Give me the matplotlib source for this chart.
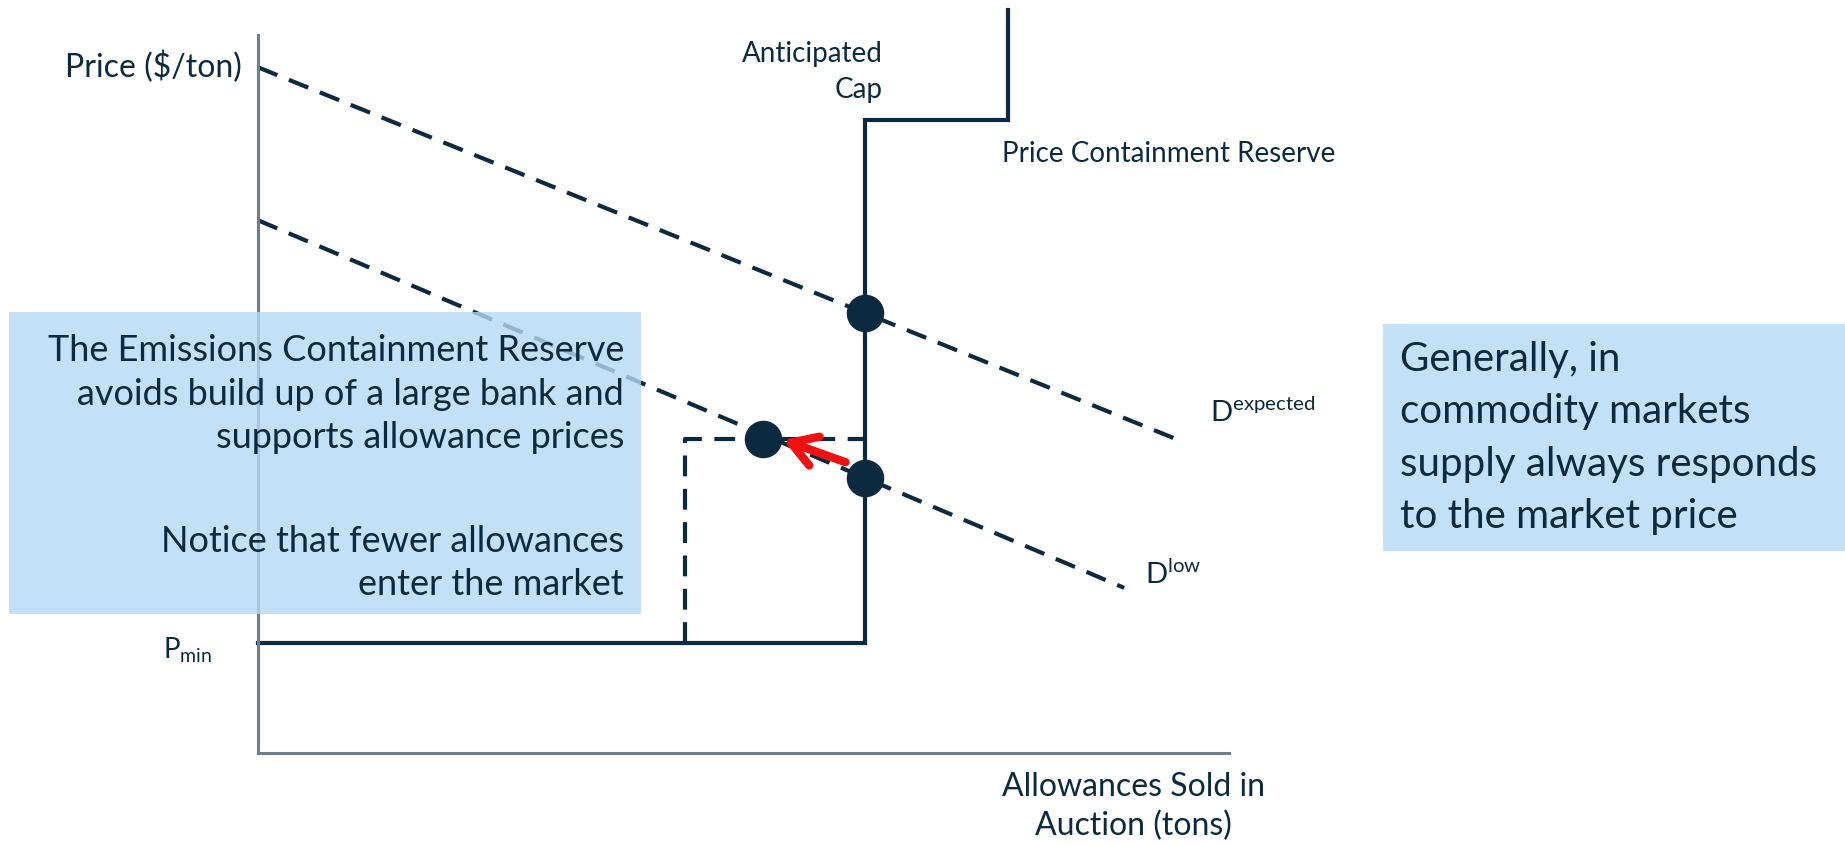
import matplotlib

matplotlib.use('Agg')
import matplotlib.pyplot as plt
from matplotlib.patches import Rectangle

# quantities (x) and prices (y) in arbitrary units, 0..100
pmin = 15.3
cap_q = 62.5
pcr_price = 88.2
pcr_q = 77.2
ecr_q = 44.0
ecr_price = 43.7

supply_q = [0, cap_q, cap_q, pcr_q, pcr_q]
supply_p = [pmin, pmin, pcr_price, pcr_price, 103.5]
ecr_line_q = [ecr_q, ecr_q, cap_q]
ecr_line_p = [pmin, ecr_price, ecr_price]
d_expected_q = [0, 94.6]
d_expected_p = [95.5, 43.7]
d_low_q = [0, 89.2]
d_low_p = [74.2, 23.0]
eq_q = [62.5, 62.5, 52.0]
eq_p = [61.3, 38.3, 43.7]
arrow_from = (60.5, 40.5)
arrow_to = (54.1, 43.6)

box_left_lines1 = 'The Emissions Containment Reserve\navoids build up of a large bank and\nsupports allowance prices'
box_left_lines2 = 'Notice that fewer allowances\nenter the market'
box_right_text = 'Generally, in\ncommodity markets\nsupply always responds\nto the market price'

navy = '#0b2a3f'
grey = '#6f7f8c'
box_col = '#b6d9f5'

plt.rcParams['font.family'] = ['Lato', 'DejaVu Sans']
plt.rcParams['mathtext.fontset'] = 'custom'
plt.rcParams['mathtext.rm'] = 'Lato'
plt.rcParams['mathtext.it'] = 'Lato'

W, H = 1845, 846
fig = plt.figure(figsize=(W / 100, H / 100), dpi=100)


def fx(x):
    return x / W


def fy(y):
    return 1 - y / H


ax = fig.add_axes([fx(258), fy(753), fx(1229) - fx(258), fy(35) - fy(753)])
ax.set_xlim(0, 100)
ax.set_ylim(0, 100)
ax.set_xticks([])
ax.set_yticks([])
for s in ['top', 'right']:
    ax.spines[s].set_visible(False)
for s in ['left', 'bottom']:
    ax.spines[s].set_color(grey)
    ax.spines[s].set_linewidth(2.2)

dash = (0, (5, 3))
ax.plot(d_expected_q, d_expected_p, color=navy, lw=3, linestyle=dash, clip_on=False)
ax.plot(d_low_q, d_low_p, color=navy, lw=3, linestyle=dash, clip_on=False)
ax.plot(ecr_line_q, ecr_line_p, color=navy, lw=3, linestyle=dash)
ax.plot(supply_q, supply_p, color=navy, lw=3, clip_on=False, solid_joinstyle='miter')
ax.plot(eq_q, eq_p, 'o', color=navy, markersize=26, zorder=5)
ax.annotate('', xy=arrow_to, xytext=arrow_from,
            arrowprops=dict(arrowstyle='->,head_length=0.9,head_width=0.55',
                            color='#f21010', lw=6, capstyle='round', joinstyle='round',
                            mutation_scale=20, shrinkA=0, shrinkB=0), zorder=6)

# text labels
fig.text(fx(242), fy(67), 'Price ($/ton)', ha='right', va='center', fontsize=23, color=navy)
fig.text(fx(883), fy(72), 'Anticipated\nCap', ha='right', va='center', fontsize=20,
         color=navy, linespacing=1.45, multialignment='right')
fig.text(fx(1002), fy(154), 'Price Containment Reserve', ha='left', va='center',
         fontsize=20, color=navy)
fig.text(fx(1210), fy(412), r'D$^{\mathrm{expected}}$', ha='left', va='center',
         fontsize=21, color=navy)
fig.text(fx(1145), fy(574), r'D$^{\mathrm{low}}$', ha='left', va='center',
         fontsize=21, color=navy)
fig.text(fx(163), fy(650), r'P$_{\mathrm{min}}$', ha='left', va='center',
         fontsize=20, color=navy)
fig.text(fx(1133), fy(807), 'Allowances Sold in\nAuction (tons)', ha='center', va='center',
         fontsize=23, color=navy, linespacing=1.35)

# annotation boxes
fig.patches.append(Rectangle((fx(9), fy(614)), fx(641) - fx(9), fy(312) - fy(614),
                             transform=fig.transFigure, facecolor=box_col, alpha=0.8,
                             edgecolor='none', zorder=10))
fig.patches.append(Rectangle((fx(1383), fy(551)), fx(1845) - fx(1383), fy(324) - fy(551),
                             transform=fig.transFigure, facecolor=box_col, alpha=0.8,
                             edgecolor='none', zorder=10))
fig.text(fx(624), fy(394), box_left_lines1, ha='right', va='center', fontsize=26,
         color=navy, linespacing=1.38, multialignment='right', zorder=11)
fig.text(fx(624), fy(563), box_left_lines2, ha='right', va='center', fontsize=26,
         color=navy, linespacing=1.36, multialignment='right', zorder=11)
fig.text(fx(1400), fy(438), box_right_text, ha='left', va='center', fontsize=29,
         color=navy, linespacing=1.52, zorder=11)

plt.savefig('out.png', dpi=100)
